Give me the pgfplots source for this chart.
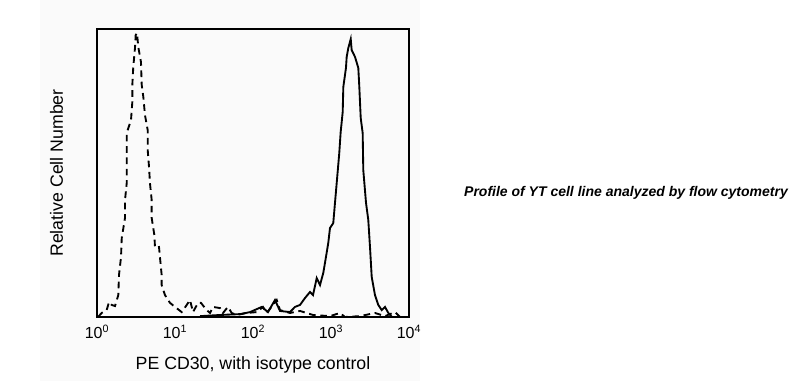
\documentclass[border=0pt]{standalone}
\usepackage{fontspec}
\setmainfont{Liberation Sans}
\usepackage{pgfplots}
\pgfplotsset{compat=1.18}
\definecolor{bgpanel}{RGB}{250,250,250}
\begin{document}
\begin{tikzpicture}[x=0.75pt,y=0.75pt]
\path[use as bounding box] (0,0) rectangle (802,381);
\fill[bgpanel] (40,0) rectangle (420,381);
\begin{axis}[
  at={(72.75pt,48pt)}, anchor=south west,
  scale only axis, width=234pt, height=216pt,
  xmin=0, xmax=4, ymin=0, ymax=100,
  xtick={0,1,2,3,4},
  xticklabels={10\textsuperscript{0},10\textsuperscript{1},10\textsuperscript{2},10\textsuperscript{3},10\textsuperscript{4}},
  ytick=\empty,
  major tick length=0pt,
  axis line style={line width=1.5pt},
  tick label style={font=\fontsize{12}{14}\selectfont},
  xticklabel style={yshift=-2.5pt},
  xlabel={PE CD30, with isotype control},
  ylabel={Relative Cell Number},
  label style={font=\fontsize{13.3}{16}\selectfont},
  xlabel style={yshift=-7pt},
  ylabel style={yshift=22pt},
  clip=true,
]
\addplot[black, line width=1.4pt, dash pattern=on 5pt off 3.5pt] coordinates {
(0.013,0) (0.060,1.4) (0.124,2.4) (0.154,5.2) (0.188,4.2) (0.231,3.8)
(0.273,7.6) (0.282,14.6) (0.308,20.8) (0.317,27.4) (0.359,34.4) (0.359,40.6)
(0.381,46.5) (0.381,58.0) (0.381,63.9) (0.436,68.4) (0.453,74.7) (0.453,80.6)
(0.465,86.8) (0.487,93.4) (0.496,97.9) (0.513,98.6) (0.529,93.8) (0.564,88.5)
(0.573,80.6) (0.594,76.4) (0.615,70.1) (0.650,64.9) (0.650,58.0) (0.667,52.1)
(0.679,46.5) (0.701,40.6) (0.701,34.4) (0.735,28.5) (0.744,24.0) (0.795,24.3)
(0.808,20.5) (0.829,14.6) (0.829,11.1) (0.872,7.6) (0.936,4.9) (1.000,3.5)
(1.086,1.7) (1.141,3.8) (1.192,5.9) (1.231,1.7) (1.295,4.9) (1.333,4.9)
(1.406,2.4) (1.449,1.4) (1.487,3.5) (1.577,3.1) (1.615,1.4) (1.679,3.5)
(1.727,1.4) (1.791,0.7) (1.919,1.4) (2.047,1.7) (2.128,3.5) (2.176,1.4)
(2.304,5.9) (2.346,2.4) (2.474,1.4) (2.603,2.1) (2.769,0.7) (2.987,0.3)
(3.115,1.4) (3.179,0) (3.372,0.3) (3.564,1.4) (3.692,0.3) (3.821,1.7) (3.885,0)
};
\addplot[black, line width=1.4pt] coordinates {
(1.321,0.3) (1.577,0.7) (1.833,1.0) (1.962,1.7) (2.112,3.5) (2.192,1.7)
(2.282,5.9) (2.346,2.1) (2.474,1.7) (2.538,3.5) (2.603,4.2) (2.667,6.6)
(2.731,8.7) (2.769,7.6) (2.817,13.5) (2.859,11.1) (2.901,15.3) (2.923,18.8)
(2.965,25.7) (2.987,30.9) (3.029,32.6) (3.051,39.6) (3.073,46.5) (3.106,56.9)
(3.124,64.2) (3.150,71.2) (3.158,79.9) (3.192,86.5) (3.201,90.3) (3.222,93.4)
(3.253,96.5) (3.265,92.7) (3.308,90.3) (3.350,86.5) (3.363,79.9) (3.381,69.1)
(3.406,63.9) (3.414,51.0) (3.449,39.6) (3.478,33.7) (3.500,24.3) (3.522,13.9)
(3.564,7.6) (3.606,4.2) (3.650,2.4) (3.692,3.5) (3.735,1.4) (3.782,0)
};
\end{axis}
\node[font=\fontsize{10.5}{12}\selectfont\bfseries\itshape, anchor=center] at (626,188) {Profile of YT cell line analyzed by flow cytometry};
\end{tikzpicture}
\end{document}
